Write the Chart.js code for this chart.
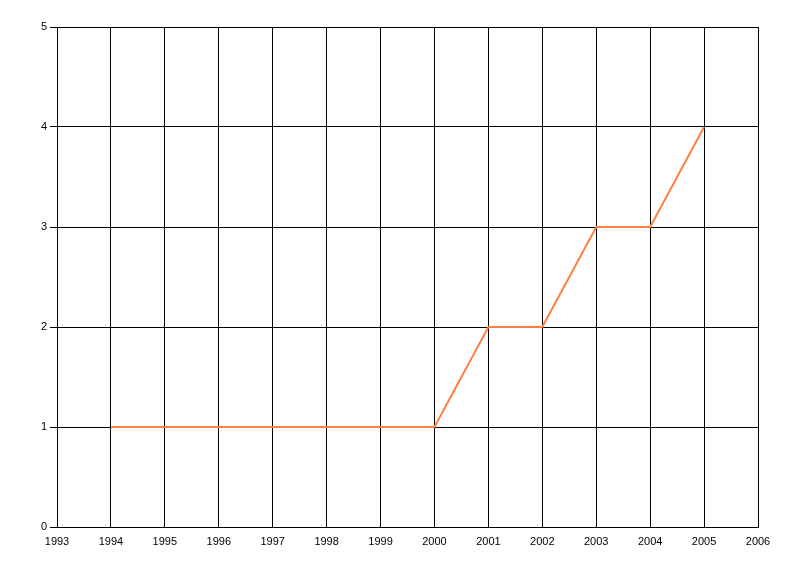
<!DOCTYPE html>
<html>
<head>
<meta charset="utf-8">
<script src="https://cdn.jsdelivr.net/npm/chart.js@4/dist/chart.umd.min.js"></script>
<style>
  html, body { margin: 0; padding: 0; background: #fff; }
  #wrap { width: 800px; height: 576px; }
</style>
</head>
<body>
<div id="wrap"><canvas id="stepChart" width="800" height="576"></canvas></div>
<script>
// DATA
const years = [1994, 1995, 1996, 1997, 1998, 1999, 2000, 2001, 2002, 2003, 2004, 2005];
const values = [1, 1, 1, 1, 1, 1, 1, 2, 2, 3, 3, 4];
const xMin = 1993, xMax = 2006;
const yMin = 0, yMax = 5;

const points = years.map((y, i) => ({ x: y, y: values[i] }));

Chart.defaults.font.family = "'Liberation Sans', Arial, sans-serif";
Chart.defaults.font.size = 11;
Chart.defaults.color = "#000";

const ctx = document.getElementById("stepChart").getContext("2d");

const myChart = new Chart(ctx, {
  type: "line",
  data: {
    datasets: [
      {
        data: points,
        borderColor: "#ff8040",
        borderWidth: 2,
        pointRadius: 0,
        fill: false,
        tension: 0,
      },
    ],
  },
  options: {
    responsive: false,
    animation: false,
    layout: {
      padding: { left: 0, top: 27, right: 42, bottom: 19 },
    },
    plugins: {
      legend: { display: false },
      tooltip: { enabled: false },
    },
    scales: {
      x: {
        type: "linear",
        min: xMin,
        max: xMax,
        grid: { color: "#000", lineWidth: 1, drawTicks: false },
        border: { color: "#000", width: 1 },
        ticks: {
          stepSize: 1,
          padding: 8,
          maxRotation: 0,
          autoSkip: false,
          callback: (v) => String(v),
        },
        afterFit: function (scale) {
          scale.height = 30;
        },
      },
      y: {
        min: yMin,
        max: yMax,
        grid: { color: "#000", lineWidth: 1, tickLength: 7 },
        border: { color: "#000", width: 1 },
        ticks: { stepSize: 1, padding: 3 },
        afterFit: function (scale) {
          scale.width = 57;
        },
      },
    },
  },
});
</script>
</body>
</html>
